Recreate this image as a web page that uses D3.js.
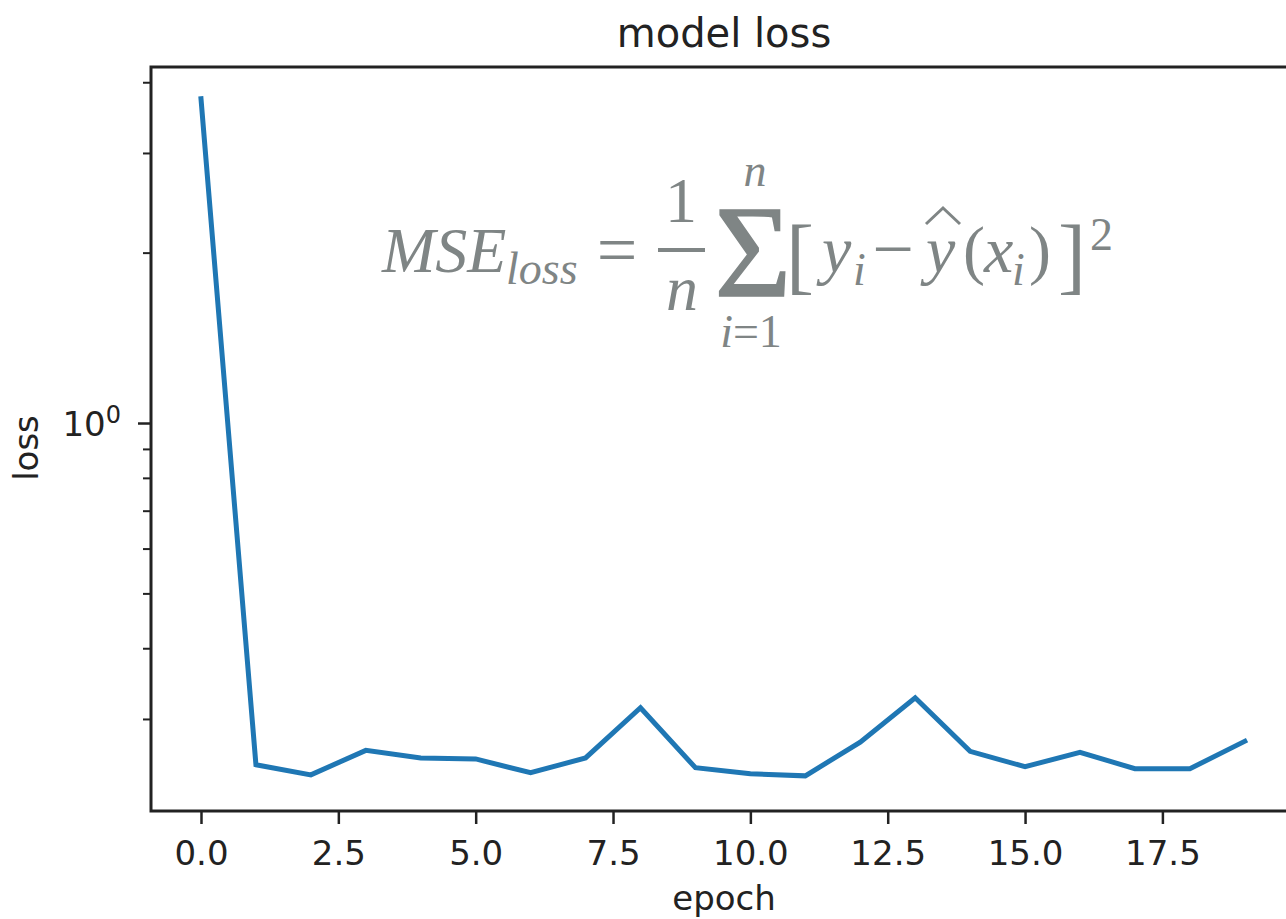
<!DOCTYPE html>
<html>
<head>
<meta charset="utf-8">
<script src="https://cdn.jsdelivr.net/npm/d3@7"></script>
<style>
  body { margin: 0; background: #fff; }
  svg { display: block; }
  .tick text { font-family: "DejaVu Sans", sans-serif; }
</style>
</head>
<body>
<div id="chart"></div>
<script>
// data
var epochs = [0, 1, 2, 3, 4, 5, 6, 7, 8, 9, 10, 11, 12, 13, 14, 15, 16, 17, 18, 19];
var lossValues = [3.74, 0.249, 0.239, 0.264, 0.256, 0.255, 0.241, 0.256, 0.314, 0.246,
                  0.240, 0.238, 0.273, 0.327, 0.263, 0.247, 0.262, 0.245, 0.245, 0.274];
var xTicks = [0, 2.5, 5, 7.5, 10, 12.5, 15, 17.5];
var yMajorTicks = [1];
var yMinorTicks = [0.3, 0.4, 0.5, 0.6, 0.7, 0.8, 0.9, 2, 3, 4];

var width = 1286, height = 919;
var plot = { left: 151, right: 1297, top: 67, bottom: 811 };

var svg = d3.select('#chart')
  .append('svg')
  .attr('width', width)
  .attr('height', height);

var x = d3.scaleLinear()
  .domain([-0.91, 19.95])
  .range([plot.left, plot.right]);

var y = d3.scaleLog()
  .domain([0.2063, 4.256])
  .range([plot.bottom, plot.top]);

var line = d3.line()
  .x(function(d) { return x(d.epoch); })
  .y(function(d) { return y(d.loss); });

var points = epochs.map(function(e, i) { return { epoch: e, loss: lossValues[i] }; });

// the curve
svg.append('path')
  .datum(points)
  .attr('d', line)
  .attr('fill', 'none')
  .attr('stroke', '#1f77b4')
  .attr('stroke-width', 5)
  .attr('stroke-linejoin', 'miter')
  .attr('stroke-linecap', 'square');

// x axis
var xAxis = svg.append('g')
  .attr('transform', 'translate(0,' + plot.bottom + ')')
  .call(d3.axisBottom(x).tickValues(xTicks).tickFormat(d3.format('.1f')).tickSize(13).tickPadding(17));
xAxis.select('.domain').remove();
xAxis.selectAll('.tick line').attr('stroke', '#222').attr('stroke-width', 2.5);
xAxis.selectAll('.tick text').attr('font-size', 34).attr('fill', '#222');

// y axis: minor ticks
var yMinor = svg.append('g')
  .attr('transform', 'translate(' + plot.left + ',0)')
  .call(d3.axisLeft(y).tickValues(yMinorTicks).tickFormat('').tickSize(8));
yMinor.select('.domain').remove();
yMinor.selectAll('.tick line').attr('stroke', '#222').attr('stroke-width', 2);

// y axis: major ticks with 10^k labels
var yMajor = svg.append('g')
  .attr('transform', 'translate(' + plot.left + ',0)')
  .call(d3.axisLeft(y).tickValues(yMajorTicks).tickFormat('').tickSize(13));
yMajor.select('.domain').remove();
yMajor.selectAll('.tick line').attr('stroke', '#222').attr('stroke-width', 2.5);
yMajor.selectAll('.tick').append('text')
  .attr('x', -30)
  .attr('dy', '0.36em')
  .attr('text-anchor', 'end')
  .attr('font-size', 34)
  .attr('fill', '#222')
  .each(function(d) {
    var t = d3.select(this);
    t.append('tspan').text('10');
    t.append('tspan').attr('font-size', 24).attr('dy', '-0.55em').text(Math.round(Math.log10(d)));
  });

// frame
svg.append('rect')
  .attr('x', plot.left)
  .attr('y', plot.top)
  .attr('width', plot.right - plot.left)
  .attr('height', plot.bottom - plot.top)
  .attr('fill', 'none')
  .attr('stroke', '#222')
  .attr('stroke-width', 3);

// title and axis labels
svg.append('text')
  .attr('x', (plot.left + plot.right) / 2)
  .attr('y', 47)
  .attr('text-anchor', 'middle')
  .attr('font-family', 'DejaVu Sans, sans-serif')
  .attr('font-size', 40)
  .attr('fill', '#222')
  .text('model loss');

svg.append('text')
  .attr('x', (plot.left + plot.right) / 2)
  .attr('y', 910)
  .attr('text-anchor', 'middle')
  .attr('font-family', 'DejaVu Sans, sans-serif')
  .attr('font-size', 34)
  .attr('fill', '#222')
  .text('epoch');

svg.append('text')
  .attr('transform', 'translate(38,448) rotate(-90)')
  .attr('text-anchor', 'middle')
  .attr('font-family', 'DejaVu Sans, sans-serif')
  .attr('font-size', 34)
  .attr('fill', '#222')
  .text('loss');

// formula annotation
var formulaColor = '#7f8585';
var f = svg.append('g')
  .attr('font-family', 'Liberation Serif, Times New Roman, serif')
  .attr('fill', formulaColor);

function ftext(txt, px, py, size, italic, anchor) {
  return f.append('text')
    .attr('x', px)
    .attr('y', py)
    .attr('font-size', size)
    .attr('font-style', italic ? 'italic' : 'normal')
    .attr('text-anchor', anchor || 'start')
    .text(txt);
}

ftext('MSE', 382, 272, 64, true);
ftext('loss', 506, 284, 46, true);
ftext('=', 617, 274, 72, false, 'middle');
ftext('1', 681, 222, 64, false, 'middle');
f.append('line')
  .attr('x1', 658).attr('x2', 705)
  .attr('y1', 250).attr('y2', 250)
  .attr('stroke', formulaColor)
  .attr('stroke-width', 4);
ftext('n', 682, 310, 64, true, 'middle');
ftext('\u03A3', 753, 296, 132, false, 'middle')
  .attr('stroke', formulaColor)
  .attr('stroke-width', 1.5);
ftext('n', 755, 186, 46, true, 'middle');
var sub = ftext('', 751, 347, 46, false, 'middle');
sub.append('tspan').attr('font-style', 'italic').text('i');
sub.append('tspan').text('=1');
ftext('[', 786, 284, 84, false);
ftext('y', 822, 272, 66, true);
ftext('i', 853, 285, 46, true);
ftext('\u2212', 893, 274, 74, false, 'middle');
ftext('y', 926, 272, 66, true);
// wide hat over y
f.append('path')
  .attr('d', 'M926,224 L943,208 L960,224')
  .attr('fill', 'none')
  .attr('stroke', formulaColor)
  .attr('stroke-width', 3);
ftext('(', 963, 272, 66, false);
ftext('x', 984, 272, 66, true);
ftext('i', 1012, 285, 46, true);
ftext(')', 1029, 272, 66, false);
ftext(']', 1058, 284, 84, false);
ftext('2', 1090, 250, 46, false);
</script>
</body>
</html>
